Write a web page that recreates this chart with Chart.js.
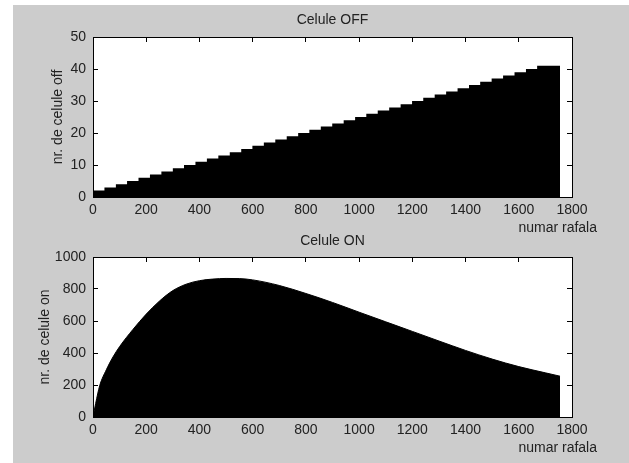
<!DOCTYPE html>
<html>
<head>
<meta charset="utf-8">
<script src="https://cdn.jsdelivr.net/npm/chart.js@4"></script>
<style>
  html, body { margin: 0; padding: 0; background: #ffffff; }
  body { width: 629px; height: 463px; position: relative; overflow: hidden; }
  #fig { position: absolute; left: 13px; top: 5px; width: 616px; height: 458px; background: #cccccc; }
  canvas { position: absolute; left: 0; }
  #c1 { top: 0; }
  #c2 { top: 232px; }
</style>
</head>
<body>
<div id="fig"></div>
<canvas id="c1" width="629" height="232"></canvas>
<canvas id="c2" width="629" height="231"></canvas>
<script>
// ---- data ----
// Top panel: number of OFF cells (stepped), step start positions and values
const offStepX = [0, 43, 86, 128, 171, 214, 257, 300, 342, 385, 428, 471, 514, 557, 599, 642, 685, 728, 771, 813, 856, 899, 942, 985, 1027, 1070, 1113, 1156, 1199, 1241, 1284, 1327, 1370, 1413, 1455, 1498, 1541, 1584, 1627, 1669, 1712, 1755];
const offStepY = [1, 2, 3, 4, 5, 6, 7, 8, 9, 10, 11, 12, 13, 14, 15, 16, 17, 18, 19, 20, 21, 22, 23, 24, 25, 26, 27, 28, 29, 30, 31, 32, 33, 34, 35, 36, 37, 38, 39, 40, 41, 41];
// Bottom panel: number of ON cells
const onX = [0, 10, 25, 50, 75, 100, 150, 200, 250, 300, 350, 400, 450, 500, 550, 600, 700, 800, 900, 1000, 1100, 1200, 1300, 1400, 1500, 1600, 1700, 1755];
const onY = [0, 85, 195, 295, 375, 440, 547, 643, 725, 790, 830, 852, 862, 866, 865, 857, 822, 772, 716, 655, 595, 535, 475, 416, 362, 315, 276, 255];
// axes
const xMax = 1800, xStep = 200;
const offMax = 50, offStep = 10;
const onMax = 1000, onStep = 200;
const titles = ['Celule OFF', 'Celule ON'];
const yLabels = ['nr. de celule off', 'nr. de celule on'];
const xLabel = 'numar rafala';

const FONT = 'Liberation Sans, Arial, Helvetica, sans-serif';
const TXT = '#222222';
Chart.defaults.font.family = FONT;
Chart.defaults.font.size = 14;
Chart.defaults.color = TXT;

const whiteArea = {
  id: 'whiteArea',
  beforeDraw(chart) {
    const {ctx, chartArea: a} = chart;
    ctx.save();
    ctx.fillStyle = '#ffffff';
    ctx.fillRect(a.left, a.top, a.right - a.left, a.bottom - a.top);
    ctx.restore();
  }
};
function xLabelPlugin(yPos) {
  return {
    id: 'xLabel',
    afterDraw(chart) {
      const ctx = chart.ctx;
      ctx.save();
      ctx.font = '14px ' + FONT;
      ctx.fillStyle = TXT;
      ctx.textAlign = 'right';
      ctx.textBaseline = 'middle';
      ctx.fillText(xLabel, 597, yPos);
      ctx.restore();
    }
  };
}
const plain = v => String(v);

function makeOptions(cfg) {
  const gridOpt = { drawOnChartArea: false, tickLength: -5, color: '#000000', lineWidth: 1 };
  const border = { color: '#000000', width: 1 };
  return {
    responsive: false,
    animation: false,
    events: [],
    layout: { padding: { left: 0, right: 57, top: 0, bottom: 0 } },
    plugins: {
      legend: { display: false },
      tooltip: { enabled: false },
      title: { display: false }
    },
    scales: {
      x: {
        type: 'linear', position: 'bottom', min: 0, max: xMax,
        ticks: { stepSize: xStep, padding: 9.6, maxRotation: 0, autoSkip: false, color: TXT, callback: plain },
        grid: gridOpt, border,
        afterFit(s) { s.height = cfg.xHeight; }
      },
      x2: {
        type: 'linear', position: 'top', min: 0, max: xMax,
        ticks: { stepSize: xStep, display: false },
        grid: gridOpt, border,
        title: { display: true, text: cfg.title, color: TXT, font: { size: 14, family: FONT }, padding: { top: cfg.titleTop, bottom: 0 } },
        afterFit(s) { s.height = cfg.topHeight; }
      },
      y: {
        type: 'linear', position: 'left', min: 0, max: cfg.yMax,
        ticks: { stepSize: cfg.yStep, padding: 12, color: TXT, callback: plain },
        grid: gridOpt, border,
        title: { display: true, text: cfg.yLabel, color: TXT, font: { size: 14, family: FONT }, padding: { top: cfg.yTitlePad, bottom: 0 } },
        afterFit(s) { s.width = 93; }
      },
      y2: {
        type: 'linear', position: 'right', min: 0, max: cfg.yMax,
        ticks: { stepSize: cfg.yStep, display: false },
        grid: gridOpt, border,
        afterFit(s) { s.width = 0; }
      }
    }
  };
}

new Chart(document.getElementById('c1'), {
  type: 'line',
  data: {
    datasets: [{
      data: offStepX.map((x, i) => ({ x, y: offStepY[i] })),
      stepped: 'after',
      fill: 'origin',
      backgroundColor: '#000000',
      borderColor: '#000000',
      borderWidth: 0,
      pointRadius: 0
    }]
  },
  options: makeOptions({ title: titles[0], titleTop: 11.6, topHeight: 37, xHeight: 35, yMax: offMax, yStep: offStep, yLabel: yLabels[0], yTitlePad: 49.6 }),
  plugins: [whiteArea, xLabelPlugin(228)]
});

new Chart(document.getElementById('c2'), {
  type: 'line',
  data: {
    datasets: [{
      data: onX.map((x, i) => ({ x, y: onY[i] })),
      cubicInterpolationMode: 'monotone',
      fill: 'origin',
      backgroundColor: '#000000',
      borderColor: '#000000',
      borderWidth: 1,
      pointRadius: 0
    }]
  },
  options: makeOptions({ title: titles[1], titleTop: 0.6, topHeight: 25, xHeight: 46, yMax: onMax, yStep: onStep, yLabel: yLabels[1], yTitlePad: 36.6 }),
  plugins: [whiteArea, xLabelPlugin(216)]
});
</script>
</body>
</html>
